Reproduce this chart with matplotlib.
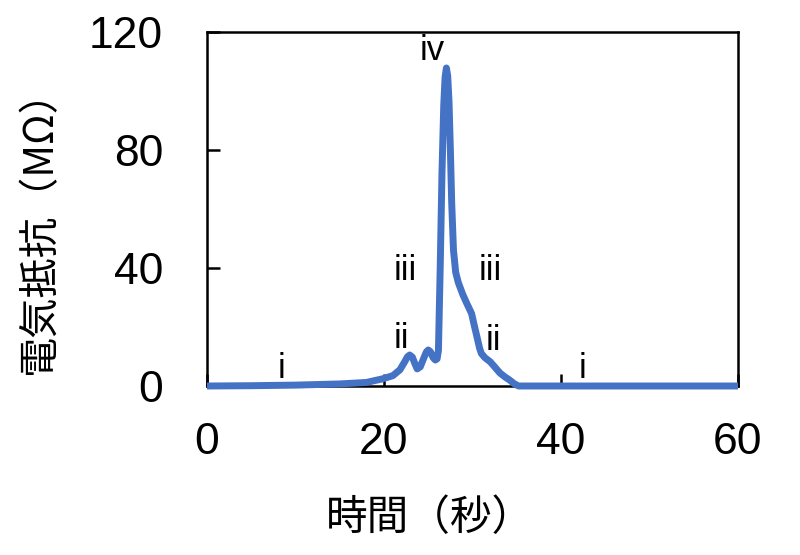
import matplotlib
matplotlib.use("Agg")
import matplotlib.pyplot as plt

# time (s) and resistance (MOhm)
time_s = [0, 5, 10, 15, 18, 19.8, 21.0, 21.8, 22.3, 22.65, 22.9, 23.2, 23.5,
          23.75, 24.1, 24.5, 24.8, 25.0, 25.25, 25.55, 25.8, 26.0, 26.15,
          26.35, 26.55, 26.75, 26.9, 27.05, 27.2, 27.35, 27.5, 27.65, 27.85,
          28.1, 28.4, 28.9, 29.35, 29.7, 29.9, 30.2, 30.5, 30.8, 31.0, 31.4,
          32.0, 32.5, 33.1, 33.7, 34.2, 34.7, 35.2, 40, 50, 60]
resistance = [0, 0.1, 0.3, 0.7, 1.2, 2.4, 3.5, 5.5, 8.0, 9.9, 10.5, 9.8, 7.5,
              5.8, 6.5, 9.5, 11.6, 12.2, 11.6, 9.6, 8.8, 9.2, 12,
              40, 72, 95, 104.5, 107.7, 105, 96, 80, 62, 46,
              38.5, 35, 31, 28, 25.8, 24.5, 20.5, 16.7, 12.8, 11.0, 9.6,
              8.2, 6.5, 4.4, 3.0, 2.0, 0.8, 0, 0, 0, 0]

# stage labels: text, x, baseline y
stage_text = ["i", "ii", "iii", "iv", "iii", "ii", "i"]
stage_x = [8.44, 22.0, 22.4, 25.4, 32.0, 32.4, 42.45]
stage_y = [2.7, 12.9, 35.9, 110.3, 35.9, 12.2, 2.7]

xticks = [0, 20, 40, 60]
yticks = [0, 40, 80, 120]

LATIN = ["Liberation Sans", "Noto Sans CJK JP"]
CJK = ["Noto Sans CJK JP", "DejaVu Sans"]

fig = plt.figure(figsize=(8, 5.55), dpi=100)
ax = fig.add_axes([0.25875, 0.3045, 0.66375, 0.6384])

ax.plot(time_s, resistance, color="#4472C4", lw=5,
        solid_joinstyle="round", solid_capstyle="butt", zorder=3, clip_on=False)

for s, x, y in zip(stage_text, stage_x, stage_y):
    ax.text(x, y, s, ha="center", va="baseline", fontsize=25, family=LATIN)

ax.set_xlim(0, 60)
ax.set_ylim(0, 120)
ax.set_xticks(xticks)
ax.set_yticks(yticks)
ax.set_xticklabels([str(v) for v in xticks], family=LATIN, fontsize=32)
ax.set_yticklabels([str(v) for v in yticks], family=LATIN, fontsize=32)
ax.tick_params(axis="both", direction="in", length=9, width=1.8)
ax.tick_params(axis="y", pad=31.5)
ax.tick_params(axis="x", pad=26)
for sp in ax.spines.values():
    sp.set_linewidth(1.8)
    sp.set_color("black")

fig.text(430 / 800, 1 - 518 / 555, "時間（秒）", ha="center", va="center",
         fontsize=30, family=CJK)
fig.text(40 / 800, 1 - 222 / 555, "電気抵抗（MΩ）", ha="center", va="center",
         rotation=90, fontsize=29, family=CJK)

fig.savefig("out.png", dpi=100)
